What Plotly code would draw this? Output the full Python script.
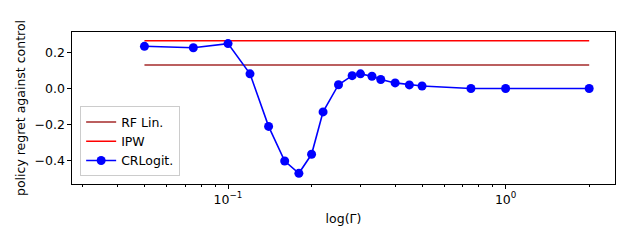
import plotly.graph_objects as go

gamma = [0.05, 0.075, 0.1, 0.12, 0.14, 0.16, 0.18, 0.2, 0.22, 0.25, 0.28, 0.3,
         0.33, 0.355, 0.4, 0.45, 0.5, 0.75, 1.0, 2.0]
crlogit = [0.233, 0.225, 0.248, 0.081, -0.209, -0.40, -0.468, -0.363, -0.129, 0.021,
           0.071, 0.081, 0.068, 0.050, 0.031, 0.020, 0.014, 0.0, 0.0, 0.0]
rf_lin = 0.130
ipw = 0.264
line_x = [0.05, 2.0]
major_ticks = [0.1, 1.0]
major_labels = ["10<sup>−1</sup>", "10<sup>0</sup>"]
minor_ticks = [0.03, 0.04, 0.05, 0.06, 0.07, 0.08, 0.09, 0.2, 0.3, 0.4, 0.5, 0.6, 0.7,
               0.8, 0.9, 2.0]
y_ticks = [-0.4, -0.2, 0.0, 0.2]
y_labels = ["−0.4", "−0.2", "0.0", "0.2"]

XR = [-1.562, 0.394]

fig = go.Figure()
fig.add_trace(go.Scatter(x=line_x, y=[rf_lin, rf_lin], mode="lines", name="RF Lin.",
                         line=dict(color="#a52a2a", width=1.6)))
fig.add_trace(go.Scatter(x=line_x, y=[ipw, ipw], mode="lines", name="IPW",
                         line=dict(color="#ff0000", width=1.6)))
fig.add_trace(go.Scatter(x=gamma, y=crlogit, mode="lines+markers", name="CRLogit.",
                         line=dict(color="#0000ff", width=1.6),
                         marker=dict(color="#0000ff", size=9)))
fig.add_trace(go.Scatter(x=[None], y=[None], xaxis="x2", showlegend=False,
                         hoverinfo="skip"))

fig.update_layout(
    template="none",
    width=630, height=240,
    margin=dict(l=72, r=15, t=32, b=56),
    plot_bgcolor="white", paper_bgcolor="white",
    font=dict(family="DejaVu Sans", size=12.5, color="black"),
    showlegend=True,
    legend=dict(x=0.015, y=0.05, xanchor="left", yanchor="bottom",
                bgcolor="rgba(255,255,255,0.8)", bordercolor="#cccccc", borderwidth=1,
                font=dict(size=12.5), itemwidth=30, tracegroupgap=0),
    xaxis=dict(type="log", range=XR, automargin=False,
               showline=True, mirror=True, linecolor="black", linewidth=1.2,
               showgrid=False, zeroline=False,
               ticks="outside", ticklen=3.5, tickcolor="black", tickwidth=1,
               tickvals=major_ticks, ticktext=major_labels,
               title=dict(text="log(Γ)", font=dict(size=12.5), standoff=8)),
    xaxis2=dict(type="log", range=XR, overlaying="x", side="bottom", automargin=False,
                showline=False, showgrid=False, zeroline=False,
                ticks="outside", ticklen=2, tickcolor="black", tickwidth=0.8,
                tickvals=minor_ticks, showticklabels=False),
    yaxis=dict(range=[-0.527, 0.312], automargin=False,
               showline=True, mirror=True, linecolor="black", linewidth=1.2,
               showgrid=False, zeroline=False,
               ticks="outside", ticklen=3.5, tickcolor="black", tickwidth=1,
               tickvals=y_ticks, ticktext=y_labels,
               title=dict(text="policy regret against control", font=dict(size=12.5), standoff=6)),
)
fig.write_html("out.html", config={"displayModeBar": False},
               post_script="document.body.style.margin='0';")
